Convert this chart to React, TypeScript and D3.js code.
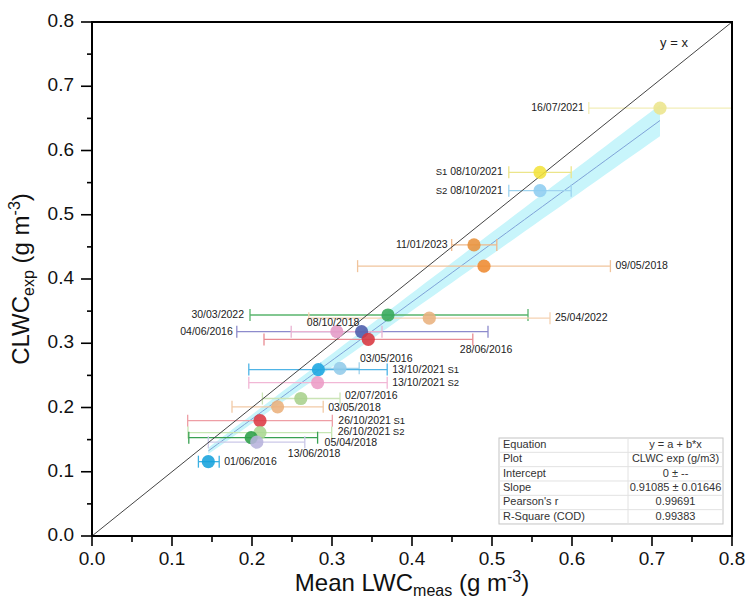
import React from "react";
import * as d3 from "d3";

// ---------- data ----------
const sampleLabels = [
  "16/07/2021", "S1 08/10/2021", "S2 08/10/2021", "11/01/2023", "09/05/2018",
  "30/03/2022", "25/04/2022", "04/06/2016", "08/10/2018", "28/06/2016",
  "03/05/2016", "13/10/2021 S1", "13/10/2021 S2", "02/07/2016", "03/05/2018",
  "26/10/2021 S1", "26/10/2021 S2", "05/04/2018", "13/06/2018", "01/06/2016",
];
const lwcMeas = [0.71, 0.56, 0.56, 0.4775, 0.49, 0.37, 0.4216, 0.337, 0.306, 0.3454, 0.31, 0.283, 0.282, 0.261, 0.232, 0.21, 0.21, 0.199, 0.206, 0.1454];
const clwcExp = [0.666, 0.566, 0.5375, 0.453, 0.42, 0.344, 0.339, 0.318, 0.318, 0.306, 0.261, 0.259, 0.2386, 0.214, 0.201, 0.1795, 0.161, 0.153, 0.146, 0.1157];
const lwcLow = [0.621, 0.521, 0.521, 0.4496, 0.332, 0.1975, 0.271, 0.181, 0.249, 0.215, 0.286, 0.196, 0.196, 0.213, 0.175, 0.1196, 0.12, 0.121, 0.1454, 0.133];
const lwcHigh = [0.81, 0.599, 0.599, 0.506, 0.648, 0.545, 0.5725, 0.495, 0.3625, 0.476, 0.334, 0.369, 0.369, 0.31, 0.289, 0.3004, 0.2996, 0.282, 0.266, 0.159];

const xTicks = [0, 0.1, 0.2, 0.3, 0.4, 0.5, 0.6, 0.7, 0.8];
const yTicks = [0, 0.1, 0.2, 0.3, 0.4, 0.5, 0.6, 0.7, 0.8];

const fitSlope = 0.91085;
const fitSlopeErr = 0.01646;
const fitXRange = [0.1454, 0.71];
const tValue = 2.09;

const tableRows = [
  ["Equation", "y = a + b*x"],
  ["Plot", "CLWC exp (g/m3)"],
  ["Intercept", "0 \u00b1 --"],
  ["Slope", "0.91085 \u00b1 0.01646"],
  ["Pearson's r", "0.99691"],
  ["R-Square (COD)", "0.99383"],
];

// ---------- styles ----------
const pointColors = [
  "#ece58c", "#f3e23c", "#8ecdf0", "#e8923c", "#ee8a30",
  "#37a85a", "#e9b27e", "#4b5bab", "#e49ac6", "#d8363f",
  "#92cbe9", "#1ea6e0", "#ec9cc6", "#a9d08c", "#ebb07c",
  "#dc3a44", "#a9d891", "#2c9f48", "#b7b3dc", "#16a2dc",
];
const barColors = [
  "#f2eeb8", "#ece58a", "#9fd4f0", "#efb88a", "#f0c49c",
  "#58b46c", "#f5d2b2", "#8d8bcc", "#e9b3d2", "#e88b92",
  "#9fd2ec", "#4fb4e6", "#f1b7d5", "#cbe4b6", "#f2caa6",
  "#ee9ea5", "#c6e6b4", "#38a052", "#cbc8e8", "#3cb0e2",
];
// label placement: which end of the error bar, offset, text-anchor
const labelPlace = [
  { ref: "lo", dx: -5, dy: 0, anchor: "end" },
  { ref: "lo", dx: -6, dy: 0, anchor: "end" },
  { ref: "lo", dx: -6, dy: 0, anchor: "end" },
  { ref: "lo", dx: -4, dy: 0, anchor: "end" },
  { ref: "hi", dx: 5, dy: 0, anchor: "start" },
  { ref: "lo", dx: -6, dy: 0, anchor: "end" },
  { ref: "hi", dx: 5, dy: 0, anchor: "start" },
  { ref: "lo", dx: -4, dy: 0, anchor: "end" },
  { ref: "pt", dx: -30, dy: -9, anchor: "start" },
  { ref: "hi", dx: -13, dy: 11, anchor: "start" },
  { ref: "pt", dx: 20, dy: -9, anchor: "start" },
  { ref: "hi", dx: 5, dy: 0, anchor: "start" },
  { ref: "hi", dx: 5, dy: 0, anchor: "start" },
  { ref: "hi", dx: 5, dy: -3, anchor: "start" },
  { ref: "hi", dx: 5, dy: 1, anchor: "start" },
  { ref: "hi", dx: 6, dy: 0, anchor: "start" },
  { ref: "hi", dx: 6, dy: -1, anchor: "start" },
  { ref: "hi", dx: 7, dy: 5, anchor: "start" },
  { ref: "hi", dx: -17, dy: 12, anchor: "start" },
  { ref: "hi", dx: 5, dy: 0, anchor: "start" },
];

const FONT = 'Arial, "Liberation Sans", sans-serif';
const W = 747;
const H = 602;
const M = { left: 92, right: 732, top: 22, bottom: 536 };

function LabelText({ text, x, y, anchor }: { text: string; x: number; y: number; anchor: string }) {
  const tokens = text.split(" ");
  return (
    <text x={x} y={y} textAnchor={anchor} dominantBaseline="middle" fontFamily={FONT} fontSize={10.5} fill="#222">
      {tokens.map((t, i) => (
        <tspan key={i} fontSize={/^S\d$/.test(t) ? 9.5 : 10.5}>
          {(i > 0 ? " " : "") + t}
        </tspan>
      ))}
    </text>
  );
}

export default function App() {
  const x = d3.scaleLinear().domain([0, 0.8]).range([M.left, M.right]);
  const y = d3.scaleLinear().domain([0, 0.8]).range([M.bottom, M.top]);

  const minorX = d3.range(0.05, 0.8, 0.1);
  const minorY = d3.range(0.05, 0.8, 0.1);

  const bandXs = d3.range(0, 51).map((i) => fitXRange[0] + ((fitXRange[1] - fitXRange[0]) * i) / 50);
  const band = d3
    .area<number>()
    .x((v) => x(v))
    .y0((v) => y((fitSlope - tValue * fitSlopeErr) * v))
    .y1((v) => y((fitSlope + tValue * fitSlopeErr) * v));
  const fitLine = d3
    .line<number>()
    .x((v) => x(v))
    .y((v) => y(fitSlope * v));

  const tblX0 = 499;
  const tblX1 = 723;
  const tblSplit = 628;
  const tblY0 = 438;
  const rowH = 14.33;

  return (
    <svg width={W} height={H} style={{ position: "absolute", left: 0, top: 0, background: "#fff" }}>
      <defs>
        <clipPath id="plotClip">
          <rect x={M.left} y={M.top} width={M.right - M.left} height={M.bottom - M.top} />
        </clipPath>
      </defs>
      <rect x={0} y={0} width={W} height={H} fill="#fff" />

      <g clipPath="url(#plotClip)">
        {/* confidence band and fit */}
        <path d={band(bandXs) || ""} fill="#c8f5fb" />
        <path d={fitLine(bandXs) || ""} fill="none" stroke="#7fa3d8" strokeWidth={1} />

        {/* error bars */}
        {sampleLabels.map((_, i) => {
          const cy = y(clwcExp[i]);
          const x0 = x(lwcLow[i]);
          const x1 = x(lwcHigh[i]);
          return (
            <g key={"eb" + i} stroke={barColors[i]} strokeWidth={1.3}>
              <line x1={x0} x2={x1} y1={cy} y2={cy} />
              <line x1={x0} x2={x0} y1={cy - 6} y2={cy + 6} />
              <line x1={x1} x2={x1} y1={cy - 6} y2={cy + 6} />
            </g>
          );
        })}

        {/* y = x line */}
        <line x1={x(0)} y1={y(0)} x2={x(0.8)} y2={y(0.8)} stroke="#444" strokeWidth={1} />

        {/* points */}
        {sampleLabels.map((_, i) => (
          <circle key={"pt" + i} cx={x(lwcMeas[i])} cy={y(clwcExp[i])} r={6.6} fill={pointColors[i]} opacity={0.88} />
        ))}
      </g>

      {/* labels */}
      {sampleLabels.map((lab, i) => {
        const p = labelPlace[i];
        const bx = p.ref === "lo" ? x(lwcLow[i]) : p.ref === "hi" ? x(lwcHigh[i]) : x(lwcMeas[i]);
        return <LabelText key={"lb" + i} text={lab} x={bx + p.dx} y={y(clwcExp[i]) + p.dy} anchor={p.anchor} />;
      })}

      <text x={674} y={44} textAnchor="middle" dominantBaseline="middle" fontFamily={FONT} fontSize={13} fill="#222">
        y = x
      </text>

      {/* table */}
      <g fontFamily={FONT} fontSize={11} fill="#333">
        <rect x={tblX0} y={tblY0} width={tblX1 - tblX0} height={rowH * tableRows.length} fill="#fff" stroke="#c4c4c4" strokeWidth={1} />
        {tableRows.map((r, i) => (
          <g key={"tr" + i}>
            {i > 0 && (
              <line x1={tblX0} x2={tblX1} y1={tblY0 + rowH * i} y2={tblY0 + rowH * i} stroke="#e2e2e2" strokeWidth={1} />
            )}
            <text x={tblX0 + 4} y={tblY0 + rowH * (i + 0.5)} dominantBaseline="middle">
              {r[0]}
            </text>
            <text x={(tblSplit + tblX1) / 2} y={tblY0 + rowH * (i + 0.5)} textAnchor="middle" dominantBaseline="middle">
              {r[1]}
            </text>
          </g>
        ))}
        <line x1={tblSplit} x2={tblSplit} y1={tblY0} y2={tblY0 + rowH * tableRows.length} stroke="#e2e2e2" strokeWidth={1} />
      </g>

      {/* frame */}
      <line x1={M.left} x2={M.right} y1={M.top} y2={M.top} stroke="#000" strokeWidth={2} />
      <line x1={M.right} x2={M.right} y1={M.top - 1} y2={M.bottom + 1} stroke="#000" strokeWidth={2} />
      <line x1={M.left} x2={M.left} y1={M.top - 1} y2={M.bottom + 1} stroke="#000" strokeWidth={2} />
      <line x1={M.left - 1} x2={M.right + 1} y1={M.bottom} y2={M.bottom} stroke="#000" strokeWidth={2} />

      {/* y ticks */}
      {yTicks.map((t) => (
        <g key={"yt" + t}>
          <line x1={M.left - 11} x2={M.left} y1={y(t)} y2={y(t)} stroke="#000" strokeWidth={1.6} />
          <text x={74} y={y(t)} textAnchor="end" dominantBaseline="middle" fontFamily={FONT} fontSize={19} fill="#111">
            {t.toFixed(1)}
          </text>
        </g>
      ))}
      {minorY.map((t) => (
        <line key={"ym" + t} x1={M.left - 5} x2={M.left} y1={y(t)} y2={y(t)} stroke="#000" strokeWidth={1.6} />
      ))}

      {/* x ticks */}
      {xTicks.map((t) => (
        <g key={"xt" + t}>
          <line x1={x(t)} x2={x(t)} y1={M.bottom} y2={M.bottom + 10} stroke="#000" strokeWidth={1.6} />
          <text x={x(t)} y={565} textAnchor="middle" fontFamily={FONT} fontSize={19} fill="#111">
            {t.toFixed(1)}
          </text>
        </g>
      ))}
      {minorX.map((t) => (
        <line key={"xm" + t} x1={x(t)} x2={x(t)} y1={M.bottom} y2={M.bottom + 6} stroke="#000" strokeWidth={1.6} />
      ))}

      {/* axis titles */}
      <text x={(M.left + M.right) / 2} y={591} textAnchor="middle" fontFamily={FONT} fontSize={24} fill="#111">
        Mean LWC
        <tspan fontSize={16} dy={5}>meas</tspan>
        <tspan dy={-5}> (g m</tspan>
        <tspan fontSize={16} dy={-9}>-3</tspan>
        <tspan dy={9}>)</tspan>
      </text>
      <text
        transform={`translate(29, ${(M.top + M.bottom) / 2}) rotate(-90)`}
        textAnchor="middle"
        fontFamily={FONT}
        fontSize={24}
        fill="#111"
      >
        CLWC
        <tspan fontSize={16} dy={5}>exp</tspan>
        <tspan dy={-5}> (g m</tspan>
        <tspan fontSize={16} dy={-9}>-3</tspan>
        <tspan dy={9}>)</tspan>
      </text>
    </svg>
  );
}
